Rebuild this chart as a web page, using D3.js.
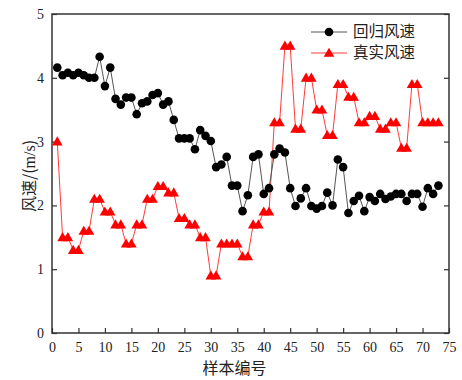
<!DOCTYPE html>
<html>
<head>
<meta charset="utf-8">
<script src="https://cdn.jsdelivr.net/npm/d3@7"></script>
<style>
  html, body { margin: 0; padding: 0; background: #fff; }
  svg { display: block; }
</style>
</head>
<body>
<div id="chart"></div>
<script>
/* sample index 1..73 */
const sampleIds = d3.range(1, 74);

/* 回归风速 (regression estimate) */
const regressSpeed = [
  4.16, 4.04, 4.08, 4.04, 4.08, 4.04, 4.00, 4.00, 4.33, 3.87,
  4.16, 3.67, 3.58, 3.69, 3.69, 3.43, 3.60, 3.63, 3.73, 3.76,
  3.58, 3.63, 3.34, 3.05, 3.05, 3.05, 2.88, 3.18, 3.09, 3.01,
  2.60, 2.64, 2.76, 2.31, 2.31, 1.91, 2.16, 2.76, 2.80, 2.18,
  2.27, 2.80, 2.89, 2.83, 2.27, 1.99, 2.11, 2.27, 1.99, 1.95,
  1.99, 2.20, 2.00, 2.72, 2.60, 1.88, 2.07, 2.15, 1.91, 2.13,
  2.07, 2.18, 2.10, 2.14, 2.18, 2.18, 2.07, 2.18, 2.18, 1.98,
  2.27, 2.18, 2.31
];

/* 真实风速 (measured) */
const realSpeed = [
  3.0, 1.5, 1.5, 1.3, 1.3, 1.6, 1.6, 2.1, 2.1, 1.9,
  1.9, 1.7, 1.7, 1.4, 1.4, 1.7, 1.7, 2.1, 2.1, 2.3,
  2.3, 2.2, 2.2, 1.8, 1.8, 1.7, 1.7, 1.5, 1.5, 0.9,
  0.9, 1.4, 1.4, 1.4, 1.4, 1.2, 1.2, 1.7, 1.7, 1.9,
  1.9, 3.3, 3.3, 4.5, 4.5, 3.2, 3.2, 4.0, 4.0, 3.5,
  3.5, 3.1, 3.1, 3.9, 3.9, 3.7, 3.7, 3.3, 3.3, 3.4,
  3.4, 3.2, 3.2, 3.3, 3.3, 2.9, 2.9, 3.9, 3.9, 3.3,
  3.3, 3.3, 3.3
];

const xTicks = d3.range(0, 80, 5);
const yTicks = [0, 1, 2, 3, 4, 5];
const seriesNames = ['回归风速', '真实风速'];

/* ── layout ─────────────────────────────────────────── */
const W = 462, H = 380;
const m = { t: 14, r: 13, b: 47, l: 52 };
const w = W - m.l - m.r, h = H - m.t - m.b;
const SERIF = '"Liberation Serif", "Times New Roman", serif';
const CJK = '"Noto Sans CJK SC", sans-serif';
const AXIS = '#333';

const svg = d3.select('#chart').append('svg')
  .attr('width', W).attr('height', H);
const g = svg.append('g').attr('transform', `translate(${m.l},${m.t})`);

const x = d3.scaleLinear().domain([0, 75]).range([0, w]);
const y = d3.scaleLinear().domain([0, 5]).range([h, 0]);

/* axes: ticks point inward */
function styleAxis(sel) {
  sel.attr('font-family', null).attr('font-size', null);
  sel.select('.domain').remove();
  sel.selectAll('line').attr('stroke', AXIS).attr('stroke-width', 1.2);
  sel.selectAll('text')
    .style('font-family', SERIF).style('font-size', '14px').attr('fill', '#222');
}
g.append('g').attr('transform', `translate(0,${h})`)
  .call(d3.axisBottom(x).tickValues(xTicks).tickSizeInner(-5).tickSizeOuter(0)
    .tickPadding(9).tickFormat(d3.format('d')))
  .call(styleAxis);
g.append('g')
  .call(d3.axisLeft(y).tickValues(yTicks).tickSizeInner(-5).tickSizeOuter(0)
    .tickPadding(8).tickFormat(d3.format('d')))
  .call(styleAxis);
g.append('g').attr('transform', `translate(${w},0)`)
  .call(d3.axisRight(y).tickValues(yTicks).tickSizeInner(-5).tickSizeOuter(0).tickFormat(''))
  .call(styleAxis);

/* frame */
g.append('rect').attr('width', w).attr('height', h)
  .attr('fill', 'none').attr('stroke', AXIS).attr('stroke-width', 1.5);

/* series */
const regData = sampleIds.map((id, i) => ({ id, v: regressSpeed[i] }));
const realData = sampleIds.map((id, i) => ({ id, v: realSpeed[i] }));
const line = d3.line().x(d => x(d.id)).y(d => y(d.v));

g.append('path').datum(realData)
  .attr('fill', 'none').attr('stroke', '#ff3b3b').attr('stroke-width', 1).attr('d', line);
g.append('path').datum(regData)
  .attr('fill', 'none').attr('stroke', '#555').attr('stroke-width', 1).attr('d', line);

const tri = d3.symbol().type(d3.symbolTriangle).size(48);
g.selectAll('.tri').data(realData).join('path')
  .attr('class', 'tri')
  .attr('transform', d => `translate(${x(d.id)},${y(d.v) + 0.8})`)
  .attr('d', tri).attr('fill', '#ff0000');

g.selectAll('.dot').data(regData).join('circle')
  .attr('class', 'dot')
  .attr('cx', d => x(d.id)).attr('cy', d => y(d.v))
  .attr('r', 4.3).attr('fill', '#000');

/* legend */
const leg = svg.append('g').attr('transform', 'translate(311,32)');
seriesNames.forEach((name, i) => {
  const row = leg.append('g').attr('transform', `translate(0,${i * 21})`);
  row.append('line').attr('x1', 0).attr('x2', 36).attr('y1', 0).attr('y2', 0)
    .attr('stroke', i === 0 ? '#555' : '#ff3b3b').attr('stroke-width', 1);
  if (i === 0) {
    row.append('circle').attr('cx', 18).attr('cy', 0).attr('r', 4.3).attr('fill', '#000');
  } else {
    row.append('path').attr('transform', 'translate(18,0.8)').attr('d', tri).attr('fill', '#ff0000');
  }
  row.append('text').attr('x', 42).attr('y', 0).attr('dy', '0.35em')
    .style('font-family', CJK).style('font-size', '15.5px').attr('fill', '#222')
    .text(name);
});

/* axis titles */
svg.append('text')
  .attr('x', m.l + w / 2 - 16).attr('y', 374)
  .attr('text-anchor', 'middle')
  .style('font-family', CJK).style('font-size', '16px').attr('fill', '#222')
  .text('样本编号');

const yt = svg.append('text')
  .attr('transform', `translate(35,176) rotate(-90)`)
  .attr('text-anchor', 'middle')
  .style('font-family', CJK).style('font-size', '16px').attr('fill', '#222');
yt.append('tspan').text('风速/(');
yt.append('tspan').style('font-family', SERIF).text('m/s');
yt.append('tspan').text(')');
</script>
</body>
</html>
